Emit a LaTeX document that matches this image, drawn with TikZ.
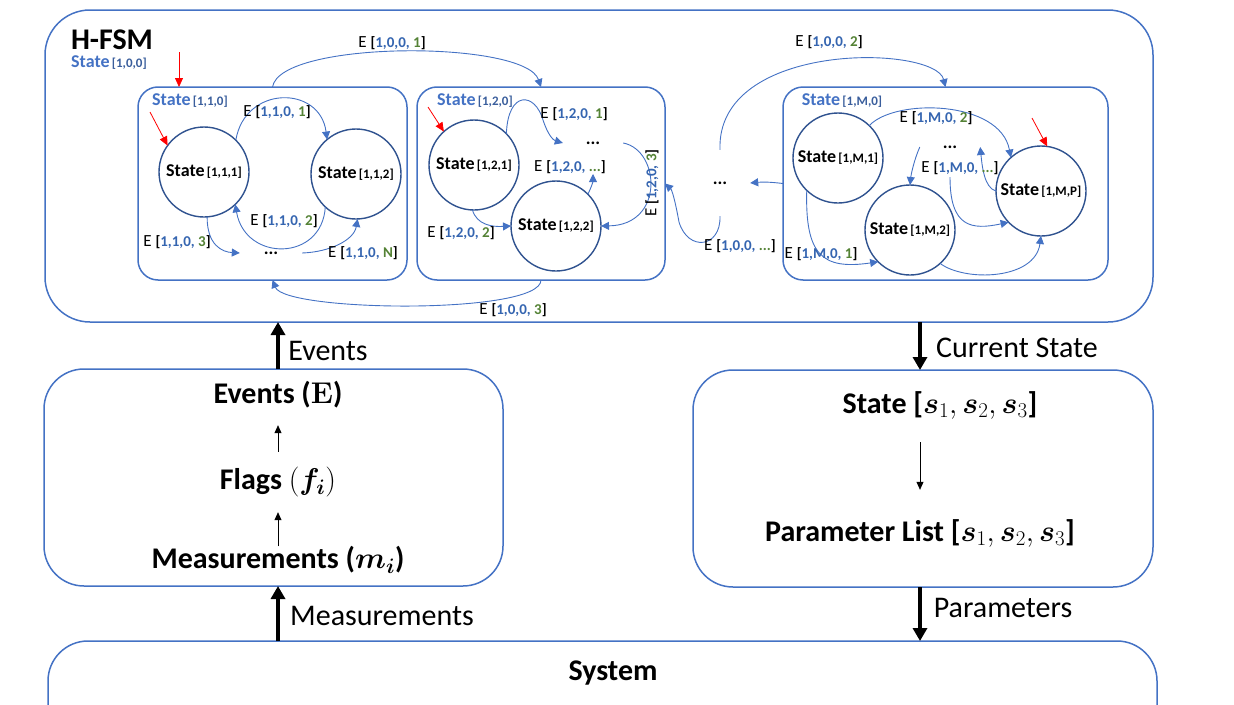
\RequirePackage{fix-cm}
\documentclass[tikz,border=0pt]{standalone}
\usepackage{bm}
\usepackage[no-math]{fontspec}
\setmainfont{Carlito}
\usetikzlibrary{arrows.meta}
\definecolor{boxblue}{HTML}{4472C4}
\definecolor{circblue}{HTML}{2F528F}
\definecolor{lblue}{HTML}{4472C4}
\definecolor{bidx}{HTML}{3A5E9C}
\definecolor{idx}{HTML}{3565B0}
\definecolor{grn}{HTML}{548235}
\newcommand{\ev}[2]{{\fontsize{17}{20}\selectfont E} {\fontsize{15}{18}\selectfont\bfseries[\textcolor{idx}{#1,} \textcolor{grn}{#2}]}}
\newcommand{\stl}[1]{{\fontsize{18}{20}\selectfont\bfseries State} {\fontsize{13}{15}\selectfont\bfseries[#1]}}
\newcommand{\bstl}[1]{{\fontsize{18}{20}\selectfont\bfseries\color{lblue}State} {\fontsize{13}{15}\selectfont\bfseries\color{bidx}[#1]}}
\tikzset{
  hbox/.style={draw=boxblue, line width=1.5pt, rounded corners=45pt, inner sep=0pt, outer sep=0pt},
  pbox/.style={draw=boxblue, line width=1.5pt, rounded corners=40pt, inner sep=0pt, outer sep=0pt},
  subbox/.style={draw=boxblue, line width=1.5pt, rounded corners=20pt, inner sep=0pt, outer sep=0pt},
  stc/.style={circle, draw=circblue, line width=1.4pt, minimum size=90pt, inner sep=0pt, outer sep=0pt},
  conn/.style={draw=boxblue, line width=0.9pt, -{Triangle[length=8pt,width=8pt]}},
  redarr/.style={draw=red, line width=0.8pt, -{Triangle[length=9pt,width=8pt]}},
  bigarr/.style={draw=black, line width=4.5pt, -{Triangle[length=13pt,width=14pt]}},
  smallarr/.style={draw=black, line width=0.8pt, -{Triangle[length=8pt,width=7pt]}},
  elbl/.style={inner sep=0pt, font=\fontsize{17}{20}\selectfont},
  dotn/.style={inner sep=0pt, font=\fontsize{18}{20}\selectfont\bfseries},
  ptxt/.style={inner sep=0pt, font=\fontsize{30}{36}\selectfont\bfseries},
  atxt/.style={inner sep=0pt, font=\fontsize{30}{36}\selectfont},
}
\begin{document}
\begin{tikzpicture}[x=1pt,y=1pt]
\useasboundingbox (0,0) rectangle (1234,-704);
\clip (0,0) rectangle (1234,-704);

% ---------- H-FSM ----------
\node[hbox, minimum width=1108pt, minimum height=312pt] (hfsm) at (599,-166) {};
\node[inner sep=0pt, font=\fontsize{30}{32}\selectfont\bfseries] (title) at (112,-40) {H-FSM};
\node[inner sep=0pt] (s100) at (109,-63) {\bstl{1,0,0}};

\node[subbox, minimum width=269pt, minimum height=193pt] (b1) at (272.5,-183.5) {};
\node[subbox, minimum width=248pt, minimum height=193pt] (b2) at (541,-183.5) {};
\node[subbox, minimum width=325pt, minimum height=193pt] (b3) at (945.5,-183.5) {};

\node[inner sep=0pt] (s110) at (190,-101) {\bstl{1,1,0}};
\node[inner sep=0pt] (s120) at (475,-101) {\bstl{1,2,0}};
\node[inner sep=0pt] (s1M0) at (842,-101) {\bstl{1,M,0}};

% circles
\node[stc] (c111) at (204,-172) {\stl{1,1,1}};
\node[stc] (c112) at (356,-174) {\stl{1,1,2}};
\node[stc] (c121) at (474,-165) {\stl{1,2,1}};
\node[stc] (c122) at (556,-226) {\stl{1,2,2}};
\node[stc] (cM1) at (838,-158) {\stl{1,M,1}};
\node[stc] (cM2) at (910,-230) {\stl{1,M,2}};
\node[stc] (cMP) at (1041,-191) {\stl{1,M,P}};

% dots
\node[dotn, minimum width=62pt, minimum height=10pt] (d1) at (271,-253) {...};
\node[dotn, minimum width=60pt, minimum height=10pt] (d2) at (593,-143) {...};
\node[dotn, minimum width=60pt, minimum height=66pt] (dmid) at (720,-183) {...};
\node[dotn, minimum width=60pt, minimum height=60pt] (dM) at (950,-147) {...};

% red initial arrows
\coordinate (r1) at (179,-52);
\coordinate (r2) at (150,-112);
\coordinate (r3) at (428,-107);
\coordinate (r4) at (1032,-118);
\draw[redarr] (r1) -- (r1 |- b1.north);
\draw[redarr] (r2) -- (c111.144);
\draw[redarr] (r3) -- (c121.132);
\draw[redarr] (r4) -- (cMP.82);

% box 1 transitions
\draw[conn] (c111.45) .. controls (245,-85) and (320,-85) .. (c112.130);
\draw[conn] (c112.227) .. controls (322,-262) and (245,-262) .. (c111.314);
\draw[conn] (c111.274) .. controls (207,-245) and (222,-252) .. (d1.west);
\draw[conn] (d1.east) .. controls (330,-252) and (354,-240) .. (c112.272);
\node[elbl] (l1101) at (277,-112) {\ev{1,1,0}{1}};
\node[elbl] (l1102) at (284,-221) {\ev{1,1,0}{2}};
\node[elbl] (l1103) at (177,-242) {\ev{1,1,0}{3}};
\node[elbl] (l110N) at (363,-253) {\ev{1,1,0}{N}};

% box 2 transitions
\coordinate (q2) at (593,-174);
\draw[conn] (c121.44) .. controls (508,-90) and (535,-92) .. (543,-120) .. controls (548,-135) and (553,-140) .. (d2.west);
\draw[conn] (c122.45) .. controls (592,-186) and (593,-181) .. (q2);
\draw[conn] (c121.268) .. controls (477,-225) and (492,-227) .. (c122.west);
\draw[conn] (d2.east) .. controls (660,-150) and (665,-225) .. (c122.east);
\node[elbl] (l1201) at (574,-114) {\ev{1,2,0}{1}};
\node[elbl] (l120d) at (570,-167) {\ev{1,2,0}{...}};
\node[elbl] (l1202) at (461,-233) {\ev{1,2,0}{2}};
\node[elbl, rotate=90] (l1203) at (652,-183) {\ev{1,2,0}{3}};

% top level transitions
\draw[conn] (b1.north) .. controls (280,-40) and (525,-40) .. (b2.north);
\draw[conn] (b2.south) .. controls (541,-315) and (285,-312) .. (b1.south);
\draw[conn] (b3.west) to[bend right=6] (dmid.east);
\draw[conn] (dmid.south) .. controls (721,-248) and (688,-252) .. (679,-222) .. controls (675,-200) and (672,-190) .. (b2.east);
\draw[conn] (dmid.north) .. controls (716,-40) and (935,-45) .. (b3.north);
\node[elbl] (l1001) at (392,-43) {\ev{1,0,0}{1}};
\node[elbl] (l1002) at (829,-42) {\ev{1,0,0}{2}};
\node[elbl] (l1003) at (513,-310) {\ev{1,0,0}{3}};
\node[elbl] (l100d) at (740,-246) {\ev{1,0,0}{...}};

% box M transitions
\draw[conn] (cM1.46) .. controls (895,-98) and (1000,-100) .. (cMP.132);
\draw[conn] (dM.west) .. controls (914,-160) and (911,-175) .. (cM2.north);
\draw[conn] (cMP.west) .. controls (984,-188) and (982,-165) .. (dM.east);
\draw[conn] (dM.south) .. controls (950,-228) and (972,-230) .. (cMP.224);
\draw[conn] (cM2.312) .. controls (965,-282) and (1035,-280) .. (cMP.south);
\draw[conn] (cM1.226) .. controls (805,-255) and (822,-270) .. (cM2.225);
\node[elbl] (l1M02) at (936,-118) {\ev{1,M,0}{2}};
\node[elbl] (l1M0d) at (960,-168) {\ev{1,M,0}{...}};
\node[elbl] (l1M01) at (821,-254) {\ev{1,M,0}{1}};

% ---------- lower panels ----------
\node[pbox, minimum width=459pt, minimum height=217pt] (lbox) at (273.5,-477.5) {};
\node[pbox, minimum width=460pt, minimum height=217pt] (rbox) at (923,-478.5) {};
\node[pbox, minimum width=1109pt, minimum height=130pt] (sys) at (602.5,-706) {};
\node[ptxt] (syst) at (613,-673) {System};

\node[ptxt, minimum height=60pt] (evE) at (278,-395) {Events ($\bm{\mathrm{E}}$)};
\node[ptxt, minimum height=60pt] (flg) at (278,-482) {Flags $(\bm{f_i})$};
\node[ptxt, minimum height=26pt] (mea) at (278,-560) {Measurements ($\bm{m_i}$)};
\draw[smallarr] (mea.north) -- (flg.south);
\draw[smallarr] (flg.north) -- (evE.south);

\node[ptxt, minimum height=74pt] (sst) at (940,-405) {State [$\bm{s}_1,\bm{s}_2,\bm{s}_3$]};
\node[ptxt, minimum height=86pt] (pl) at (920,-533) {Parameter List [$\bm{s}_1,\bm{s}_2,\bm{s}_3$]};
\draw[smallarr] (pl.north |- sst.south) -- (pl.north);

% big arrows
\draw[bigarr] (evE.north |- lbox.north) -- (evE.north |- hfsm.south);
\draw[bigarr] (mea.south |- sys.north) -- (mea.south |- lbox.south);
\draw[bigarr] (pl.north |- hfsm.south) -- (pl.north |- rbox.north);
\draw[bigarr] (pl.south |- rbox.south) -- (pl.south |- sys.north);
\node[atxt] (aev) at (328,-351) {Events};
\node[atxt] (ame) at (382,-616) {Measurements};
\node[atxt] (acs) at (1017,-348) {Current State};
\node[atxt] (apa) at (1003,-608) {Parameters};
\end{tikzpicture}
\end{document}
